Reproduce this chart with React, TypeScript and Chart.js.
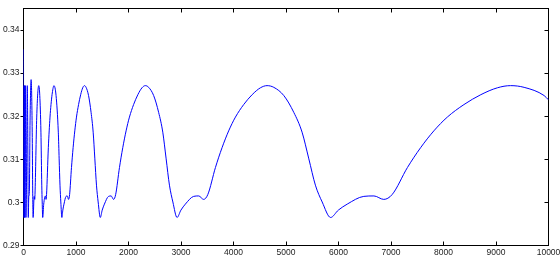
import React, { useEffect, useRef } from "react";
import { Chart, registerables } from "chart.js";

Chart.register(...registerables);

// x positions (samples) and values
const xValues = [
  0, 4, 7, 11, 18, 23, 36, 43, 46, 55, 72, 87, 91, 101, 110, 126, 145, 166, 174,
  183, 203, 214, 219, 252, 290, 310, 332, 348, 356,
  366, 385, 417, 429, 439, 473, 505, 524, 544, 580, 620, 663, 679, 695, 711,
  731, 749, 771, 810, 834, 858, 878, 914, 945, 977, 1009, 1049, 1089, 1128, 1160, 1192, 1239, 1287, 1327, 1359, 1390, 1422,
  1463, 1499, 1541, 1620, 1669, 1716, 1755, 1828, 1891, 1954, 2018, 2097, 2178, 2257, 2320, 2384, 2479, 2574, 2653, 2717, 2780, 2845,
  2925, 2998, 3083, 3241, 3337, 3431, 3510, 3656, 3782, 3908, 4037, 4194, 4355, 4513, 4639, 4768, 4958, 5148, 5306, 5435, 5560, 5689,
  5850, 5996, 6166, 6482, 6675, 6862, 7020, 7313, 7564, 7816, 8073, 8389, 8711, 9027, 9278, 9536, 9916, 10000,
];

const yValues = [
  0.3355, 0.2965, 0.3271, 0.2965, 0.3271, 0.2965, 0.3271, 0.304, 0.2965, 0.3018, 0.3271, 0.304, 0.2965, 0.3014, 0.3018, 0.3198, 0.3285, 0.3163, 0.304,
  0.2965, 0.3014, 0.3007, 0.3018, 0.3198, 0.3271, 0.3248, 0.3163, 0.304, 0.3001,
  0.2965, 0.2996, 0.3015, 0.3007, 0.3018, 0.3127, 0.3198, 0.3227, 0.325, 0.3271, 0.3248, 0.3163, 0.3101, 0.304, 0.3001,
  0.2965, 0.2982, 0.2996, 0.3014, 0.3015, 0.3007, 0.3018, 0.3081, 0.3127, 0.3166, 0.3198, 0.3227, 0.325, 0.3266, 0.3271, 0.3267, 0.3248, 0.3209, 0.3163, 0.3101, 0.304, 0.3001,
  0.2965, 0.2982, 0.2996, 0.3014, 0.3015, 0.3007, 0.3018, 0.3081, 0.3127, 0.3166, 0.3198, 0.3227, 0.325, 0.3266, 0.3271, 0.3267, 0.3248, 0.3209, 0.3163, 0.3101, 0.304, 0.3001,
  0.2965, 0.2982, 0.2996, 0.3014, 0.3015, 0.3007, 0.3018, 0.3081, 0.3127, 0.3166, 0.3198, 0.3227, 0.325, 0.3266, 0.3271, 0.3267, 0.3248, 0.3209, 0.3163, 0.3101, 0.304, 0.3001,
  0.2965, 0.2982, 0.2996, 0.3014, 0.3015, 0.3007, 0.3018, 0.3081, 0.3127, 0.3166, 0.3198, 0.3227, 0.325, 0.3266, 0.3271, 0.3267, 0.3248, 0.3238,
];

const xTicks = [0, 1000, 2000, 3000, 4000, 5000, 6000, 7000, 8000, 9000, 10000];
const xTickLabels = ["0", "1000", "2000", "3000", "4000", "5000", "6000", "7000", "8000", "9000", "10000"];
const yTicks = [0.29, 0.3, 0.31, 0.32, 0.33, 0.34];
const yTickLabels = ["0.29", "0.3", "0.31", "0.32", "0.33", "0.34"];

const X_MIN = 0;
const X_MAX = 10000;
const Y_MIN = 0.29;
const Y_MAX = 0.345;

const FONT = { family: "'Liberation Sans', Arial, Helvetica, sans-serif", size: 8.5 };
const TEXT_COLOR = "#222";

const half = (p: number) => Math.floor(p) + 0.5;

const boxPlugin = {
  id: "matlabBox",
  beforeDatasetsDraw(chart: any) {
    const { ctx, chartArea: a, scales } = chart;
    ctx.save();
    ctx.strokeStyle = "#000";
    ctx.lineWidth = 1;
    ctx.strokeRect(a.left, a.top, a.right - a.left, a.bottom - a.top);
    ctx.beginPath();
    for (const v of xTicks) {
      const px = half(scales.x.getPixelForValue(v));
      ctx.moveTo(px, a.bottom);
      ctx.lineTo(px, a.bottom - 4);
      ctx.moveTo(px, a.top);
      ctx.lineTo(px, a.top + 4);
    }
    for (const v of yTicks) {
      const py = half(scales.y.getPixelForValue(v));
      ctx.moveTo(a.left, py);
      ctx.lineTo(a.left - 3, py);
      ctx.moveTo(a.right, py);
      ctx.lineTo(a.right - 4, py);
    }
    ctx.stroke();
    ctx.restore();
  },
};

export default function App() {
  const canvasRef = useRef<HTMLCanvasElement | null>(null);

  useEffect(() => {
    const canvas = canvasRef.current;
    if (!canvas) return;
    const data = xValues.map((x, i) => ({ x, y: yValues[i] }));
    const chart = new Chart(canvas, {
      type: "line",
      data: {
        datasets: [
          {
            data,
            borderColor: "#0000ff",
            borderWidth: 1,
            pointRadius: 0,
            fill: false,
            cubicInterpolationMode: "monotone",
          },
        ],
      },
      options: {
        animation: false,
        responsive: true,
        maintainAspectRatio: false,
        devicePixelRatio: 1,
        layout: { padding: { left: 0, right: 11.5, top: 8.5, bottom: 0 } },
        plugins: { legend: { display: false }, tooltip: { enabled: false } },
        events: [],
        scales: {
          x: {
            type: "linear",
            min: X_MIN,
            max: X_MAX,
            grid: { display: false, drawTicks: false },
            border: { display: false },
            afterBuildTicks: (scale: any) => {
              scale.ticks = xTicks.map((v) => ({ value: v }));
            },
            afterFit: (scale: any) => {
              scale.height = 14.5;
              scale.paddingLeft = 0;
              scale.paddingRight = 0;
            },
            ticks: {
              autoSkip: false,
              maxRotation: 0,
              minRotation: 0,
              padding: 2,
              color: TEXT_COLOR,
              font: FONT,
              callback: (v: any) => {
                const i = xTicks.indexOf(Number(v));
                return i >= 0 ? xTickLabels[i] : "";
              },
            },
          },
          y: {
            type: "linear",
            min: Y_MIN,
            max: Y_MAX,
            grid: { display: false, drawTicks: false },
            border: { display: false },
            afterBuildTicks: (scale: any) => {
              scale.ticks = yTicks.map((v) => ({ value: v }));
            },
            afterFit: (scale: any) => {
              scale.width = 23.5;
              scale.paddingTop = 0;
              scale.paddingBottom = 0;
            },
            ticks: {
              autoSkip: false,
              padding: 4,
              color: TEXT_COLOR,
              font: FONT,
              callback: (v: any) => {
                const i = yTicks.findIndex((t) => Math.abs(t - Number(v)) < 1e-9);
                return i >= 0 ? yTickLabels[i] : "";
              },
            },
          },
        },
      },
      plugins: [boxPlugin],
    } as any);
    return () => chart.destroy();
  }, []);

  return (
    <div style={{ position: "absolute", left: 0, top: 0, width: 560, height: 260, background: "#fff" }}>
      <canvas ref={canvasRef} />
    </div>
  );
}
